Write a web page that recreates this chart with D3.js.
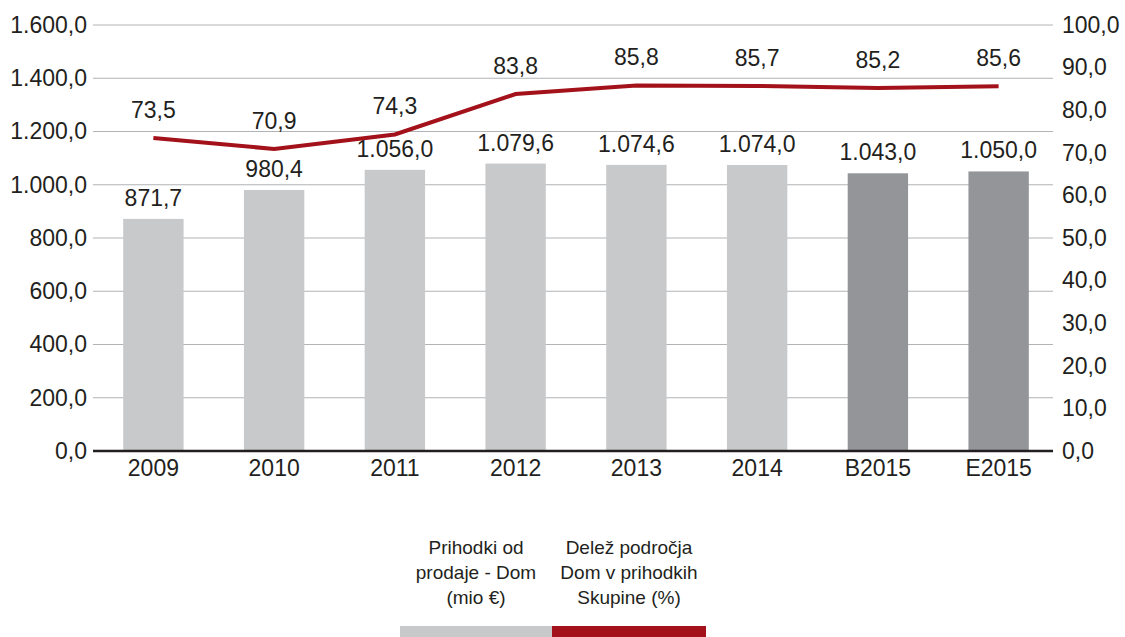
<!DOCTYPE html>
<html>
<head>
<meta charset="utf-8">
<script src="https://cdn.jsdelivr.net/npm/d3@7"></script>
<style>
  body { margin: 0; background: #fff; }
  svg text { font-family: "Liberation Sans", Arial, sans-serif; fill: #231f20; }
</style>
</head>
<body>
<svg id="chart" width="1125" height="637"></svg>
<script>
// Data
const years = ["2009", "2010", "2011", "2012", "2013", "2014", "B2015", "E2015"];
const revenue = [871.7, 980.4, 1056.0, 1079.6, 1074.6, 1074.0, 1043.0, 1050.0];
const share = [73.5, 70.9, 74.3, 83.8, 85.8, 85.7, 85.2, 85.6];
const planned = ["B2015", "E2015"];
const legendLabels = [
    ["Prihodki od", "prodaje - Dom", "(mio €)"],
    ["Delež področja", "Dom v prihodkih", "Skupine (%)"]
];

const leftTicks = d3.range(0, 1601, 200);
const rightTicks = d3.range(0, 101, 10);

// Layout
const margin = {top: 25, left: 93};
const plotW = 960, plotH = 426;
const fs = 23;

const sl = d3.formatLocale({decimal: ",", thousands: ".", grouping: [3], currency: ["", "€"]});
const fmt = sl.format(",.1f");

const svg = d3.select("#chart");
const g = svg.append("g").attr("transform", `translate(${margin.left},${margin.top})`);

const x = d3.scaleBand().domain(years).range([0, 966]).paddingInner(0.5).paddingOuter(0.25);
const yL = d3.scaleLinear().domain([0, 1600]).range([plotH, 0]);
const yR = d3.scaleLinear().domain([0, 100]).range([plotH, 0]);

// Gridlines
g.append("g")
    .selectAll("line")
    .data(leftTicks.filter(d => d > 0))
    .enter().append("line")
    .attr("x1", 0).attr("x2", plotW)
    .attr("y1", d => yL(d)).attr("y2", d => yL(d))
    .attr("stroke", "#b1b3b6").attr("stroke-width", 1.2);

function styleAxis(sel) {
    sel.select(".domain").remove();
    sel.selectAll("text").attr("font-size", fs).attr("fill", "#231f20")
        .attr("font-family", "Liberation Sans, Arial, sans-serif");
}

// Left axis
g.append("g")
    .call(d3.axisLeft(yL).tickValues(leftTicks).tickFormat(fmt).tickSize(0).tickPadding(6))
    .call(styleAxis);

// Right axis
g.append("g")
    .attr("transform", `translate(${plotW},0)`)
    .call(d3.axisRight(yR).tickValues(rightTicks).tickFormat(fmt).tickSize(0).tickPadding(9))
    .call(styleAxis);

// Bars
g.selectAll(".bar")
    .data(years)
    .enter().append("rect")
    .attr("class", "bar")
    .attr("x", d => x(d))
    .attr("width", x.bandwidth())
    .attr("y", (d, i) => yL(revenue[i]))
    .attr("height", (d, i) => plotH - yL(revenue[i]))
    .attr("fill", d => planned.includes(d) ? "#939598" : "#c8c9cb");

// Bar labels
g.selectAll(".barlabel")
    .data(years)
    .enter().append("text")
    .attr("x", d => x(d) + x.bandwidth() / 2)
    .attr("y", (d, i) => yL(revenue[i]) - 13)
    .attr("text-anchor", "middle")
    .attr("font-size", fs)
    .text((d, i) => fmt(revenue[i]));

// Baseline
g.append("line")
    .attr("x1", 0).attr("x2", plotW)
    .attr("y1", plotH).attr("y2", plotH)
    .attr("stroke", "#231f20").attr("stroke-width", 2.5);

// X axis labels
g.append("g")
    .attr("transform", `translate(0,${plotH})`)
    .call(d3.axisBottom(x).tickSize(0).tickPadding(9))
    .call(styleAxis);

// Line
const line = d3.line()
    .x((d, i) => x(years[i]) + x.bandwidth() / 2)
    .y(d => yR(d));

g.append("path")
    .datum(share)
    .attr("d", line)
    .attr("fill", "none")
    .attr("stroke", "#a3121a")
    .attr("stroke-width", 4);

g.selectAll(".linelabel")
    .data(share)
    .enter().append("text")
    .attr("x", (d, i) => x(years[i]) + x.bandwidth() / 2)
    .attr("y", d => yR(d) - 20)
    .attr("text-anchor", "middle")
    .attr("font-size", fs)
    .text(d => fmt(d));

// Legend
const legendColors = ["#c8c9cb", "#a3121a"];
const legendX = [400, 552];
const legendW = [152, 154];
legendLabels.forEach((lines, k) => {
    const cx = legendX[k] + legendW[k] / 2;
    lines.forEach((t, j) => {
        svg.append("text")
            .attr("x", cx)
            .attr("y", 554 + j * 25)
            .attr("text-anchor", "middle")
            .attr("font-size", 19)
            .text(t);
    });
    svg.append("rect")
        .attr("x", legendX[k]).attr("y", 626)
        .attr("width", legendW[k]).attr("height", 12)
        .attr("fill", legendColors[k]);
});
</script>
</body>
</html>
